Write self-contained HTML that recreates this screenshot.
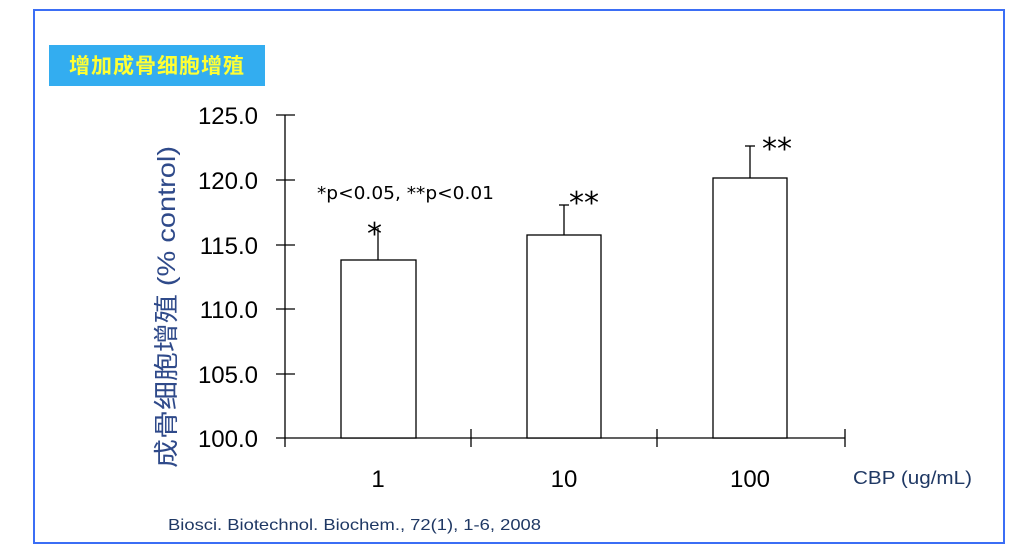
<!DOCTYPE html>
<html><head><meta charset="utf-8"><style>
body{margin:0;background:#fff;width:1017px;height:552px;overflow:hidden;position:relative;font-family:"Liberation Sans","DejaVu Sans",sans-serif}
.border{position:absolute;left:33px;top:9px;width:968px;height:531px;border:2px solid #3b6ef5;}
.title{position:absolute;left:49px;top:45px;width:216px;height:41px;background:#33adf0;color:#ffff33;font:bold 21px "Noto Sans CJK SC",sans-serif;line-height:41px;text-align:center;letter-spacing:1px}
</style></head><body>
<div class="border"></div>
<div class="title">增加成骨细胞增殖</div>
<svg width="1017" height="552" style="position:absolute;left:0;top:0" font-family="DejaVu Sans, Liberation Sans, sans-serif">
<g stroke="#000" stroke-width="1.3" fill="none">
<line x1="285" y1="115" x2="285" y2="447"/>
<line x1="276" y1="438" x2="845" y2="438"/>
<line x1="276" y1="115" x2="295" y2="115"/>
<line x1="276" y1="180" x2="295" y2="180"/>
<line x1="276" y1="245" x2="295" y2="245"/>
<line x1="276" y1="309" x2="295" y2="309"/>
<line x1="276" y1="374" x2="295" y2="374"/>
<line x1="471" y1="429" x2="471" y2="447"/>
<line x1="657" y1="429" x2="657" y2="447"/>
<line x1="845" y1="429" x2="845" y2="447"/>
<rect x="341" y="260" width="75" height="178" fill="#fff"/>
<line x1="378" y1="260" x2="378" y2="228"/>
<rect x="527" y="235" width="74" height="203" fill="#fff"/>
<line x1="564" y1="235" x2="564" y2="205"/><line x1="559" y1="205" x2="569" y2="205"/>
<rect x="713" y="178" width="74" height="260" fill="#fff"/>
<line x1="750" y1="178" x2="750" y2="146"/><line x1="745" y1="146" x2="755" y2="146"/>
</g>
<g font-size="24" fill="#000" text-anchor="end" font-family="Liberation Sans, sans-serif">
<text x="258" y="124">125.0</text><text x="258" y="189">120.0</text><text x="258" y="254">115.0</text>
<text x="258" y="318">110.0</text><text x="258" y="383">105.0</text><text x="258" y="447">100.0</text>
</g>
<g font-size="24" fill="#000" text-anchor="middle" font-family="Liberation Sans, sans-serif">
<text x="378" y="487">1</text><text x="564" y="487">10</text><text x="750" y="487">100</text>
</g>
<text x="853" y="484" font-size="18" fill="#1f3864" font-family="Liberation Sans, sans-serif" textLength="119" lengthAdjust="spacingAndGlyphs">CBP (ug/mL)</text>
<text x="168" y="530" font-size="16" fill="#1f3864" font-family="Liberation Sans, sans-serif" textLength="373" lengthAdjust="spacingAndGlyphs">Biosci. Biotechnol. Biochem., 72(1), 1-6, 2008</text>
<text x="317" y="199" font-size="18" fill="#000" textLength="177" lengthAdjust="spacingAndGlyphs">*p&lt;0.05, **p&lt;0.01</text>
<g font-size="30" fill="#000" font-family="DejaVu Sans, sans-serif">
<text x="367" y="244">*</text>
<text x="569" y="213" textLength="30" lengthAdjust="spacing">**</text>
<text x="762" y="159" textLength="30" lengthAdjust="spacing">**</text>
</g>
<text transform="translate(175,307) rotate(-90)" text-anchor="middle" font-size="25" fill="#2f4a8a" font-family="Liberation Sans, Noto Sans CJK SC, sans-serif" textLength="322" lengthAdjust="spacingAndGlyphs">成骨细胞增殖 (% control)</text>
</svg>
</body></html>
